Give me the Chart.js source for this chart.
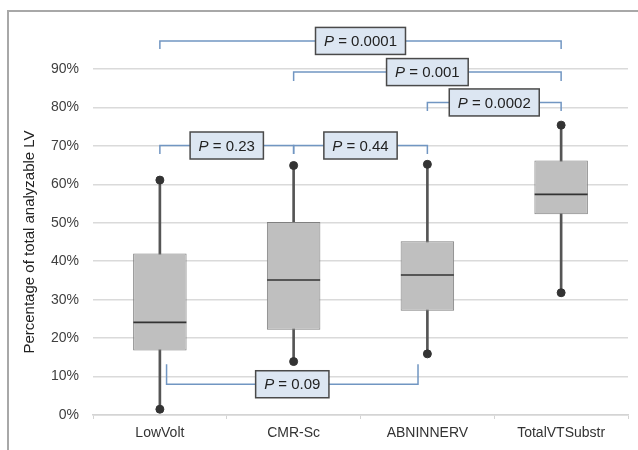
<!DOCTYPE html>
<html>
<head>
<meta charset="utf-8">
<script src="https://cdn.jsdelivr.net/npm/chart.js@4.4.1/dist/chart.umd.min.js"></script>
<style>
    html, body { margin: 0; padding: 0; background: #fff; overflow: hidden; }
    body { width: 638px; height: 450px; position: relative; }
    .frame { position: absolute; left: 7px; top: 10px; width: 631px; height: 440px; border-top: 2px solid #a8a8a8; border-left: 2px solid #a8a8a8; box-sizing: border-box; }
    #boxChart { position: absolute; left: 0; top: 0; }
</style>
</head>
<body>
<div class="frame"></div>
<canvas id="boxChart" width="638" height="450"></canvas>
<script>
const categories = ['LowVolt', 'CMR-Sc', 'ABNINNERV', 'TotalVTSubstr'];
const whiskerMin = [1.5, 13.9, 15.9, 31.8];
const q1 = [16.8, 22.2, 27.1, 52.2];
const median = [24.1, 35.1, 36.4, 57.4];
const q3 = [42.0, 50.2, 45.2, 66.2];
const whiskerMax = [61.1, 64.9, 65.2, 75.4];

// Significance brackets (category index from/to, level in %)
const pLabels = ['0.0001', '0.001', '0.0002', '0.23', '0.44', '0.09'];
const pFrom = [0, 1, 2, 0, 1, 0.05];
const pTo = [3, 3, 3, 1, 2, 1.93];
const pLevel = [97.3, 89.2, 81.3, 70.1, 70.1, 8.0];
const pTickEnd = [95.2, 86.9, 79.1, 67.9, 67.9, 13.2];

const FONT = '"Liberation Sans", Arial, sans-serif';

const bracketPlugin = {
    id: 'pBrackets',
    afterDatasetsDraw(chart) {
        const { ctx } = chart;
        const x = chart.scales.x;
        const y = chart.scales.y;
        ctx.save();
        pLabels.forEach((label, i) => {
            const x1 = x.getPixelForValue(pFrom[i]);
            const x2 = x.getPixelForValue(pTo[i]);
            const yl = y.getPixelForValue(pLevel[i]);
            const yt = y.getPixelForValue(pTickEnd[i]);

            ctx.strokeStyle = '#7196c2';
            ctx.lineWidth = 1.5;
            ctx.beginPath();
            ctx.moveTo(x1, yt);
            ctx.lineTo(x1, yl);
            ctx.lineTo(x2, yl);
            ctx.lineTo(x2, yt);
            ctx.stroke();

            // label box with italic P
            ctx.font = 'italic 15px ' + FONT;
            const wP = ctx.measureText('P').width;
            ctx.font = '15px ' + FONT;
            const rest = ' = ' + label;
            const wR = ctx.measureText(rest).width;
            const w = wP + wR + 17;
            const h = 27;
            const cx = (x1 + x2) / 2;
            const bx = cx - w / 2;
            const by = yl - h / 2;
            ctx.fillStyle = '#dce6f2';
            ctx.fillRect(bx, by, w, h);
            ctx.strokeStyle = '#4a4a4a';
            ctx.lineWidth = 1.5;
            ctx.strokeRect(bx, by, w, h);

            ctx.fillStyle = '#222';
            ctx.textBaseline = 'middle';
            ctx.textAlign = 'left';
            const tx = cx - (wP + wR) / 2;
            ctx.font = 'italic 15px ' + FONT;
            ctx.fillText('P', tx, yl + 1);
            ctx.font = '15px ' + FONT;
            ctx.fillText(rest, tx + wP, yl + 1);
        });
        ctx.restore();
    }
};

const whiskerData = whiskerMin.map((v, i) => [v, whiskerMax[i]]);
const boxData = q1.map((v, i) => [v, q3[i]]);

new Chart(document.getElementById('boxChart'), {
    type: 'bar',
    data: {
        labels: categories,
        datasets: [
            {
                label: 'whisker',
                data: whiskerData,
                backgroundColor: '#555555',
                barThickness: 2,
                grouped: false,
                order: 3
            },
            {
                label: 'box',
                data: boxData,
                backgroundColor: '#bfbfbf',
                borderColor: '#808080',
                borderWidth: 1,
                borderSkipped: false,
                barPercentage: 0.4,
                categoryPercentage: 1,
                grouped: false,
                order: 2
            },
            {
                type: 'line',
                label: 'median',
                data: median,
                showLine: false,
                pointStyle: 'line',
                pointRadius: 26.5,
                pointHoverRadius: 26.5,
                pointBorderWidth: 1.6,
                borderColor: '#333333',
                order: 1
            },
            {
                type: 'line',
                label: 'min',
                data: whiskerMin,
                showLine: false,
                pointRadius: 4,
                pointHoverRadius: 4,
                pointBackgroundColor: '#333333',
                pointBorderColor: '#333333',
                order: 0
            },
            {
                type: 'line',
                label: 'max',
                data: whiskerMax,
                showLine: false,
                pointRadius: 4,
                pointHoverRadius: 4,
                pointBackgroundColor: '#333333',
                pointBorderColor: '#333333',
                order: 0
            }
        ]
    },
    options: {
        responsive: false,
        animation: false,
        layout: { autoPadding: false, padding: { top: 69, right: 10, left: 0, bottom: 0 } },
        plugins: {
            legend: { display: false },
            tooltip: { enabled: false }
        },
        scales: {
            x: {
                afterFit: (scale) => {
                    scale.height = 35;
                    scale.paddingLeft = 0;
                    scale.paddingRight = 0;
                },
                border: { display: true, color: '#d4d4d4', width: 1.5 },
                grid: { display: true, drawOnChartArea: false, drawTicks: true, tickLength: 4, color: '#d4d4d4' },
                ticks: { color: '#333', font: { family: FONT, size: 14 }, padding: 6 }
            },
            y: {
                min: 0,
                max: 90,
                afterFit: (scale) => { scale.width = 93; },
                border: { display: false },
                grid: { color: '#dadada', lineWidth: 1.5, drawTicks: false },
                ticks: {
                    stepSize: 10,
                    padding: 14,
                    color: '#404040',
                    font: { family: FONT, size: 14 },
                    callback: (v) => v + '%'
                },
                title: {
                    display: true,
                    text: 'Percentage of total analyzable LV',
                    color: '#222',
                    font: { family: FONT, size: 15 },
                    padding: { top: 21, bottom: 0 }
                }
            }
        }
    },
    plugins: [bracketPlugin]
});
</script>
</body>
</html>
